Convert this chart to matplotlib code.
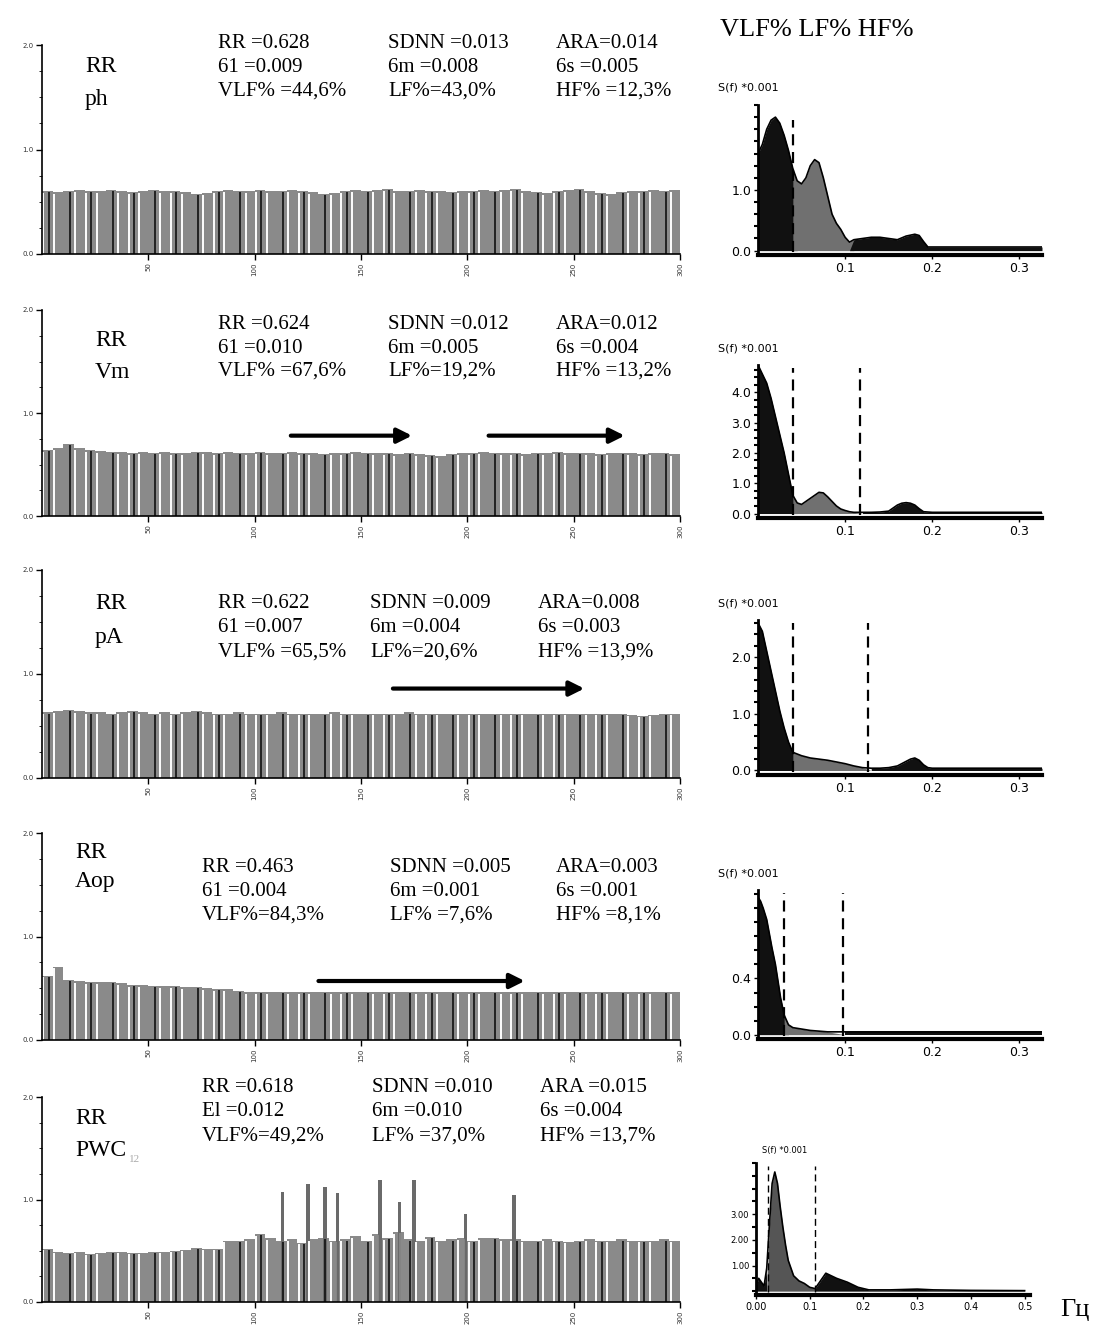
"""
RR interval series and their spectra (VLF / LF / HF) for five recordings
"""

import numpy as np
import matplotlib
matplotlib.use('Agg')
import matplotlib.pyplot as plt
from matplotlib.ticker import MultipleLocator

W, H = 1099, 1327
SERIF = ['Liberation Serif', 'DejaVu Serif']
BIN = 5  # beats per drawn bar

# RR series, mean value per 5 beats (s)
rr_ph = [0.60, 0.59, 0.60, 0.61, 0.60, 0.60, 0.61, 0.60, 0.59, 0.60,
         0.61, 0.60, 0.60, 0.59, 0.57, 0.58, 0.60, 0.61, 0.60, 0.60,
         0.61, 0.60, 0.60, 0.61, 0.60, 0.59, 0.57, 0.58, 0.60, 0.61,
         0.60, 0.61, 0.62, 0.60, 0.60, 0.61, 0.60, 0.60, 0.59, 0.60,
         0.60, 0.61, 0.60, 0.61, 0.62, 0.60, 0.59, 0.58, 0.60, 0.61,
         0.62, 0.60, 0.58, 0.57, 0.59, 0.60, 0.60, 0.61, 0.60, 0.61]
rr_vm = [0.64, 0.66, 0.70, 0.66, 0.64, 0.63, 0.62, 0.62, 0.61, 0.62,
         0.61, 0.62, 0.61, 0.61, 0.62, 0.62, 0.61, 0.62, 0.61, 0.61,
         0.62, 0.61, 0.61, 0.62, 0.61, 0.61, 0.60, 0.61, 0.61, 0.62,
         0.61, 0.61, 0.61, 0.60, 0.61, 0.60, 0.59, 0.58, 0.60, 0.61,
         0.61, 0.62, 0.61, 0.61, 0.61, 0.60, 0.61, 0.61, 0.62, 0.61,
         0.61, 0.61, 0.60, 0.61, 0.61, 0.61, 0.60, 0.61, 0.61, 0.60]
rr_pa = [0.63, 0.64, 0.65, 0.64, 0.63, 0.63, 0.62, 0.63, 0.64, 0.63,
         0.62, 0.63, 0.62, 0.63, 0.64, 0.63, 0.62, 0.62, 0.63, 0.62,
         0.62, 0.62, 0.63, 0.62, 0.62, 0.62, 0.62, 0.63, 0.62, 0.62,
         0.62, 0.62, 0.62, 0.62, 0.63, 0.62, 0.62, 0.62, 0.62, 0.62,
         0.62, 0.62, 0.62, 0.62, 0.62, 0.62, 0.62, 0.62, 0.62, 0.62,
         0.62, 0.62, 0.62, 0.62, 0.62, 0.61, 0.60, 0.61, 0.62, 0.62]
rr_aop = [0.62, 0.71, 0.58, 0.57, 0.56, 0.56, 0.56, 0.55, 0.53, 0.53,
          0.52, 0.52, 0.52, 0.51, 0.51, 0.50, 0.49, 0.49, 0.47, 0.46,
          0.46, 0.46, 0.46, 0.46, 0.46, 0.46, 0.46, 0.46, 0.46, 0.46,
          0.46, 0.46, 0.46, 0.46, 0.46, 0.46, 0.46, 0.46, 0.46, 0.46,
          0.46, 0.46, 0.46, 0.46, 0.46, 0.46, 0.46, 0.46, 0.46, 0.46,
          0.46, 0.46, 0.46, 0.46, 0.46, 0.46, 0.46, 0.46, 0.46, 0.46]
rr_pwc = [0.52, 0.49, 0.48, 0.49, 0.47, 0.48, 0.49, 0.49, 0.48, 0.48,
          0.49, 0.49, 0.50, 0.51, 0.53, 0.52, 0.52, 0.60, 0.60, 0.61,
          0.66, 0.62, 0.60, 0.61, 0.58, 0.61, 0.62, 0.60, 0.61, 0.64,
          0.60, 0.66, 0.62, 0.68, 0.61, 0.60, 0.63, 0.60, 0.61, 0.62,
          0.60, 0.62, 0.62, 0.61, 0.61, 0.60, 0.60, 0.61, 0.60, 0.59,
          0.60, 0.61, 0.60, 0.60, 0.61, 0.60, 0.60, 0.60, 0.61, 0.60]
pwc_spike_beats = [113, 125, 133, 139, 159, 168, 175, 199, 222]
pwc_spike_vals = [1.07, 1.15, 1.12, 1.06, 1.19, 0.98, 1.19, 0.86, 1.04]

# spectra S(f), *0.001
f_ph = [0, .005, .01, .015, .02, .025, .03, .035, .04, .045, .05, .055, .06,
        .065, .07, .075, .08, .085, .09, .095, .10, .105, .11, .12, .13, .14,
        .15, .16, .17, .18, .185, .19, .195, .20, .25, .30, .326]
s_ph = [1.6, 1.75, 2.0, 2.15, 2.2, 2.1, 1.9, 1.65, 1.35, 1.15, 1.1, 1.2, 1.4,
        1.5, 1.45, 1.2, 0.9, 0.6, 0.45, 0.35, 0.22, 0.14, 0.18, 0.2, 0.22, 0.22,
        0.2, 0.18, 0.24, 0.27, 0.25, 0.15, 0.06, 0.06, 0.06, 0.06, 0.06]
f_vm = [0, .005, .01, .015, .02, .025, .03, .035, .04, .045, .05, .055, .06,
        .065, .07, .075, .08, .085, .09, .095, .10, .105, .11, .12, .13, .14,
        .15, .155, .16, .165, .17, .175, .18, .185, .19, .20, .25, .30, .326]
s_vm = [4.9, 4.6, 4.3, 3.8, 3.2, 2.6, 2.0, 1.3, 0.6, 0.35, 0.3, 0.4, 0.5,
        0.6, 0.7, 0.68, 0.55, 0.4, 0.25, 0.15, 0.1, 0.06, 0.04, 0.04, 0.04, 0.05,
        0.08, 0.18, 0.28, 0.34, 0.36, 0.34, 0.28, 0.16, 0.06, 0.04, 0.04, 0.04, 0.04]
f_pa = [0, .005, .01, .015, .02, .025, .03, .035, .04, .05, .06, .07, .08, .09,
        .10, .11, .12, .13, .14, .15, .16, .165, .17, .175, .18, .185, .19, .195,
        .20, .25, .30, .326]
s_pa = [2.6, 2.45, 2.1, 1.75, 1.4, 1.05, 0.75, 0.5, 0.32, 0.26, 0.22, 0.2, 0.18,
        0.15, 0.12, 0.08, 0.05, 0.04, 0.04, 0.05, 0.08, 0.12, 0.16, 0.2, 0.22,
        0.18, 0.1, 0.05, 0.04, 0.04, 0.04, 0.04]
f_aop = [0, .003, .006, .01, .013, .016, .02, .023, .026, .03, .035, .04, .05,
         .06, .08, .10, .15, .20, .25, .30, .326]
s_aop = [0.98, 0.95, 0.9, 0.82, 0.72, 0.62, 0.5, 0.38, 0.26, 0.14, 0.07, 0.05,
         0.04, 0.03, 0.02, 0.02, 0.02, 0.02, 0.02, 0.02, 0.02]
f_pwc = [0, .005, .01, .015, .02, .025, .03, .035, .04, .045, .05, .055, .06,
         .07, .08, .09, .10, .11, .12, .13, .14, .15, .17, .19, .21, .25, .30,
         .33, .40, .50]
s_pwc = [0.2, 0.5, 0.35, 0.2, 0.9, 2.6, 4.2, 4.65, 4.2, 3.3, 2.5, 1.8, 1.2,
         0.6, 0.4, 0.3, 0.15, 0.1, 0.4, 0.7, 0.6, 0.5, 0.35, 0.15, 0.05, 0.05,
         0.08, 0.05, 0.03, 0.02]

# band borders (VLF/LF, LF/HF) as marked by the dashed lines
bands = [(0.040, 0.110), (0.040, 0.117), (0.040, 0.126), (0.030, 0.097), (0.022, 0.110)]

subjects = [('RR', 'ph'), ('RR', 'Vm'), ('RR', 'pA'), ('RR', 'Aop'), ('RR', 'PWC')]
stats = [
    [['RR =0.628', '61 =0.009', 'VLF% =44,6%'],
     ['SDNN =0.013', '6m =0.008', 'LF%=43,0%'],
     ['ARA=0.014', '6s =0.005', 'HF% =12,3%']],
    [['RR =0.624', '61 =0.010', 'VLF% =67,6%'],
     ['SDNN =0.012', '6m =0.005', 'LF%=19,2%'],
     ['ARA=0.012', '6s =0.004', 'HF% =13,2%']],
    [['RR =0.622', '61 =0.007', 'VLF% =65,5%'],
     ['SDNN =0.009', '6m =0.004', 'LF%=20,6%'],
     ['ARA=0.008', '6s =0.003', 'HF% =13,9%']],
    [['RR =0.463', '61 =0.004', 'VLF%=84,3%'],
     ['SDNN =0.005', '6m =0.001', 'LF% =7,6%'],
     ['ARA=0.003', '6s =0.001', 'HF% =8,1%']],
    [['RR =0.618', 'El =0.012', 'VLF%=49,2%'],
     ['SDNN =0.010', '6m =0.010', 'LF% =37,0%'],
     ['ARA =0.015', '6s =0.004', 'HF% =13,7%']],
]

# layout in pixels of the original page
rr_boxes = [(45, 254), (310, 516), (570, 778), (833, 1040), (1097, 1302)]
stat_cols = [(218, 388, 556), (218, 388, 556), (218, 370, 538), (202, 390, 556), (202, 372, 540)]
stat_rows = [(44, 68, 91), (324, 348, 371), (604, 628, 652), (868, 892, 915), (1088, 1112, 1136)]
name_pos = [(85, 67, 100), (95, 340, 373), (95, 604, 637), (75, 852, 882), (75, 1118, 1150)]
arrows = [[], [(117, 174, 0.78), (210, 274, 0.78)], [(165, 255, 0.86)], [(130, 227, 0.57)]]
spec_boxes = [(758, 105, 1042, 255), (758, 365, 1042, 518), (758, 620, 1042, 775),
              (758, 890, 1042, 1039), (756, 1163, 1030, 1295)]


def rect(l, t, r, b):
    return [l / W, 1 - b / H, (r - l) / W, (b - t) / H]


def fx(x):
    return x / W


def fy(y):
    return 1 - y / H


def rr_panel(ax, vals):
    x = np.arange(len(vals)) * BIN
    ax.bar(x, vals, width=BIN, align='edge', color='#8a8a8a', linewidth=0)
    # scan stripes: white and black thin lines inside the bar field
    white = ['white' if i % 4 != 2 else '#8a8a8a' for i in range(len(vals))]
    ax.vlines(x + 0.7, 0, np.array(vals) - 0.015, colors=white, linewidth=1.4)
    dark = ['#101010' if i % 2 == 0 else '#8a8a8a' for i in range(len(vals))]
    ax.vlines(x + 3.2, 0, np.array(vals) - 0.01, colors=dark, linewidth=1.2)
    ax.set_xlim(0, 300)
    ax.set_ylim(0, 2.0)
    for s in ['top', 'right']:
        ax.spines[s].set_visible(False)
    ax.spines['left'].set_linewidth(1.2)
    ax.spines['bottom'].set_linewidth(1.2)
    ax.set_xticks([50, 100, 150, 200, 250, 300])
    ax.set_xticklabels(['50', '100', '150', '200', '250', '300'], fontsize=5,
                       rotation=90, color='#333')
    ax.set_yticks([0, 1, 2])
    ax.set_yticklabels(['0.0', '1.0', '2.0'], fontsize=5, color='#333')
    ax.yaxis.set_minor_locator(MultipleLocator(0.25))
    ax.tick_params(axis='both', length=4, width=1, pad=2)
    ax.tick_params(axis='y', which='minor', length=2)


def spec_panel(ax, f, s, band, lf_color, xmax):
    f = np.array(f)
    s = np.array(s)
    lo, hi = band
    ax.fill_between(f, 0, s, where=f <= lo, color='#111111', linewidth=0, interpolate=True)
    ax.fill_between(f, 0, s, where=(f >= lo) & (f <= hi), color=lf_color, linewidth=0,
                    interpolate=True)
    ax.fill_between(f, 0, s, where=f >= hi, color='#111111', linewidth=0, interpolate=True)
    ax.plot(f, s, color='black', linewidth=1.2)
    ax.set_xlim(0, xmax)
    for s_ in ['top', 'right']:
        ax.spines[s_].set_visible(False)
    ax.spines['bottom'].set_linewidth(3)
    ax.spines['left'].set_linewidth(2)
    ax.tick_params(axis='both', labelsize=9, length=3, width=1, pad=2)
    ax.tick_params(axis='y', which='minor', length=3, width=1.5)


fig = plt.figure(figsize=(W / 100, H / 100), dpi=100)
fig.patch.set_facecolor('white')

# left column: RR series with statistics
rr_data = [rr_ph, rr_vm, rr_pa, rr_aop, rr_pwc]
for i, vals in enumerate(rr_data):
    top, bot = rr_boxes[i]
    ax = fig.add_axes(rect(42, top, 680, bot))
    rr_panel(ax, vals)
    if i == 4:
        ax.bar(pwc_spike_beats, pwc_spike_vals, width=1.6, color='#6a6a6a', linewidth=0)
    for (x0, x1, y) in (arrows[i] if i < len(arrows) else []):
        ax.annotate('', xy=(x1, y), xytext=(x0, y),
                    arrowprops=dict(arrowstyle='-|>', color='black', lw=3,
                                    mutation_scale=22, shrinkA=0, shrinkB=0))

    nx, ny1, ny2 = name_pos[i]
    fig.text(fx(nx), fy(ny1), subjects[i][0], fontsize=17, family=SERIF, va='center')
    fig.text(fx(nx), fy(ny2), subjects[i][1], fontsize=17, family=SERIF, va='center')
    if i == 4:
        fig.text(fx(nx + 54), fy(ny2 + 9), '12', fontsize=8, family=SERIF, color='#aaaaaa',
                 va='center')
    for c, col in enumerate(stats[i]):
        for r, txt in enumerate(col):
            fig.text(fx(stat_cols[i][c]), fy(stat_rows[i][r]), txt, fontsize=15,
                     family=SERIF, va='center')

# right column: spectra
spectra = [(f_ph, s_ph), (f_vm, s_vm), (f_pa, s_pa), (f_aop, s_aop), (f_pwc, s_pwc)]
ylims = [2.4, 4.9, 2.65, 1.03, 5.0]
ytick_sets = [([0, 1.0], ['0.0', '1.0']),
              ([0, 1, 2, 3, 4], ['0.0', '1.0', '2.0', '3.0', '4.0']),
              ([0, 1, 2], ['0.0', '1.0', '2.0']),
              ([0, 0.4], ['0.0', '0.4']),
              ([1, 2, 3], ['1.00', '2.00', '3.00'])]
yminor = [0.2, 0.25, 0.2, 0.1, 0.5]
for i, (f, s) in enumerate(spectra):
    l, t, r, b = spec_boxes[i]
    ax = fig.add_axes(rect(l, t, r, b))
    last = i == 4
    xmax = 0.51 if last else 0.326
    spec_panel(ax, f, s, bands[i], '#555555' if last else '#707070', xmax)
    ax.set_ylim(-0.03 * ylims[i], ylims[i])
    ax.set_yticks(ytick_sets[i][0])
    ax.set_yticklabels(ytick_sets[i][1])
    ax.yaxis.set_minor_locator(MultipleLocator(yminor[i]))
    for bx in bands[i]:
        if last or i > 0 or bx == bands[i][0]:
            ax.axvline(bx, ymin=0.02, ymax=0.98 if i > 0 else 0.9, color='black',
                       linestyle=(0, (5, 3)), linewidth=1.6 if not last else 1.0)
    if last:
        ax.set_xticks([0, 0.1, 0.2, 0.3, 0.4, 0.5])
        ax.set_xticklabels(['0.00', '0.1', '0.2', '0.3', '0.4', '0.5'], fontsize=7)
        ax.tick_params(axis='y', labelsize=6)
        fig.text(fx(762), fy(t - 12), 'S(f) *0.001', fontsize=6, family='DejaVu Sans',
                 va='center')
    else:
        ax.set_xticks([0.1, 0.2, 0.3])
        ax.set_xticklabels(['0.1', '0.2', '0.3'])
        fig.text(fx(718), fy(t - 17), 'S(f) *0.001', fontsize=8, family='DejaVu Sans',
                 va='center')

fig.text(fx(720), fy(30), 'VLF% LF% HF%', fontsize=19, family=SERIF, va='center')
fig.text(fx(1060), fy(1310), 'Гц', fontsize=19, family=SERIF, va='center')

fig.savefig('out.png', dpi=100, facecolor='white')
